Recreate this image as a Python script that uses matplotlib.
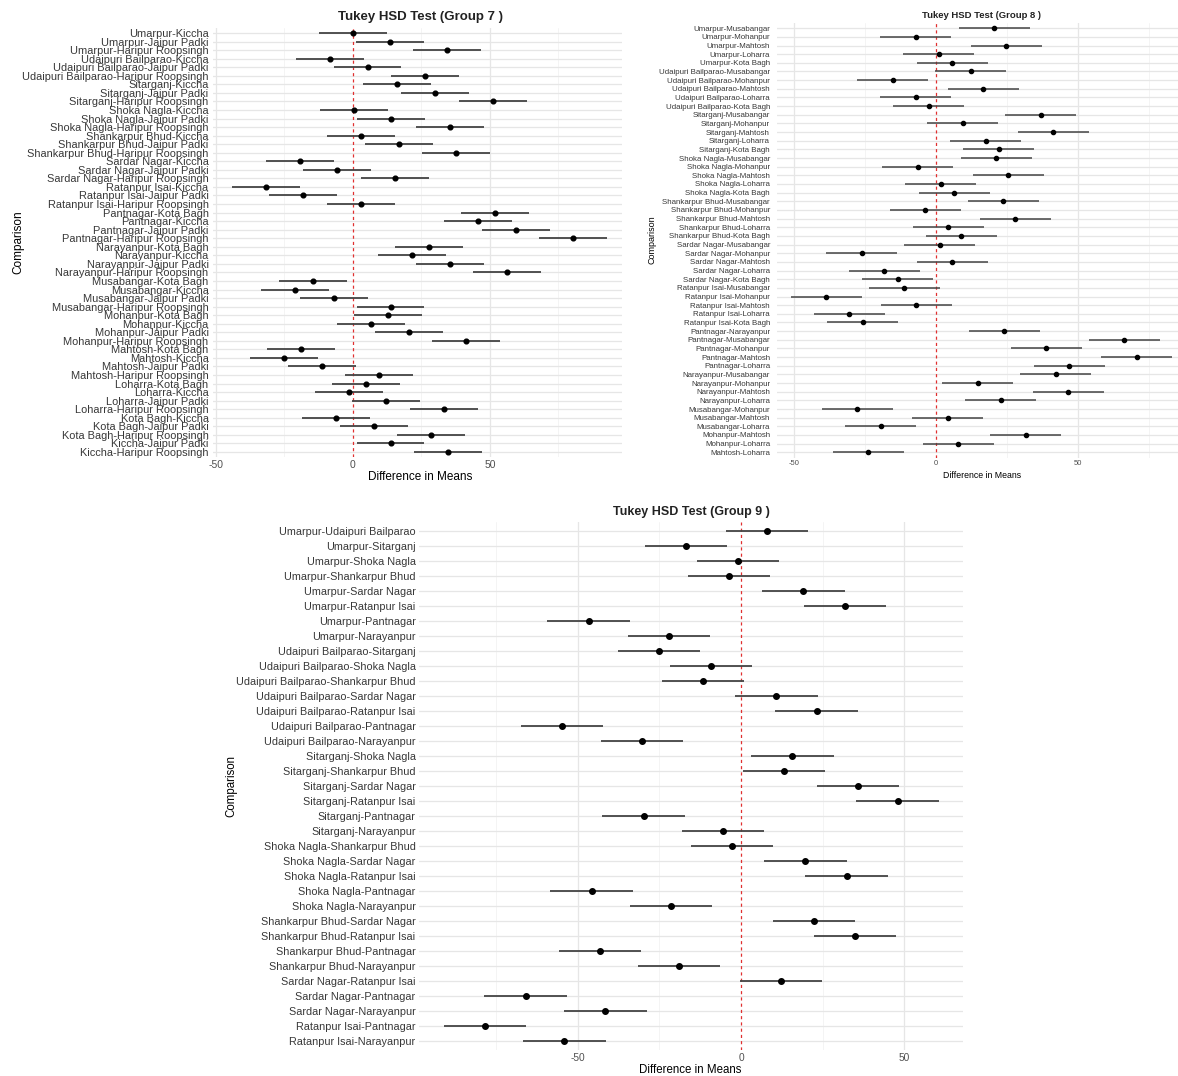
import numpy as np
import matplotlib
matplotlib.use('Agg')
import matplotlib.pyplot as plt

plt.rcParams['font.family'] = ['Liberation Sans', 'DejaVu Sans']

# ---- Group 7 comparisons ----
g7_labels = [
    'Umarpur-Kiccha', 'Umarpur-Jaipur Padki', 'Umarpur-Haripur Roopsingh',
    'Udaipuri Bailparao-Kiccha', 'Udaipuri Bailparao-Jaipur Padki', 'Udaipuri Bailparao-Haripur Roopsingh',
    'Sitarganj-Kiccha', 'Sitarganj-Jaipur Padki', 'Sitarganj-Haripur Roopsingh',
    'Shoka Nagla-Kiccha', 'Shoka Nagla-Jaipur Padki', 'Shoka Nagla-Haripur Roopsingh',
    'Shankarpur Bhud-Kiccha', 'Shankarpur Bhud-Jaipur Padki', 'Shankarpur Bhud-Haripur Roopsingh',
    'Sardar Nagar-Kiccha', 'Sardar Nagar-Jaipur Padki', 'Sardar Nagar-Haripur Roopsingh',
    'Ratanpur Isai-Kiccha', 'Ratanpur Isai-Jaipur Padki', 'Ratanpur Isai-Haripur Roopsingh',
    'Pantnagar-Kota Bagh', 'Pantnagar-Kiccha', 'Pantnagar-Jaipur Padki', 'Pantnagar-Haripur Roopsingh',
    'Narayanpur-Kota Bagh', 'Narayanpur-Kiccha', 'Narayanpur-Jaipur Padki', 'Narayanpur-Haripur Roopsingh',
    'Musabangar-Kota Bagh', 'Musabangar-Kiccha', 'Musabangar-Jaipur Padki', 'Musabangar-Haripur Roopsingh',
    'Mohanpur-Kota Bagh', 'Mohanpur-Kiccha', 'Mohanpur-Jaipur Padki', 'Mohanpur-Haripur Roopsingh',
    'Mahtosh-Kota Bagh', 'Mahtosh-Kiccha', 'Mahtosh-Jaipur Padki', 'Mahtosh-Haripur Roopsingh',
    'Loharra-Kota Bagh', 'Loharra-Kiccha', 'Loharra-Jaipur Padki', 'Loharra-Haripur Roopsingh',
    'Kota Bagh-Kiccha', 'Kota Bagh-Jaipur Padki', 'Kota Bagh-Haripur Roopsingh',
    'Kiccha-Jaipur Padki', 'Kiccha-Haripur Roopsingh',
]
g7_diff = [
    0.0, 13.4, 34.4, -8.4, 5.3, 26.3, 16.2, 29.9, 51.0, 0.4,
    14.0, 35.3, 2.9, 16.8, 37.7, -19.4, -5.9, 15.4, -31.7, -18.2,
    2.8, 51.8, 45.5, 59.4, 80.2, 27.7, 21.4, 35.3, 56.1, -14.7,
    -21.0, -7.1, 13.7, 12.7, 6.6, 20.3, 41.3, -18.9, -25.1, -11.3,
    9.6, 4.6, -1.4, 12.2, 33.1, -6.1, 7.5, 28.6, 13.7, 34.6,
]
g7_ci = 12.4

# ---- Group 8 comparisons ----
g8_labels = [
    'Umarpur-Musabangar', 'Umarpur-Mohanpur', 'Umarpur-Mahtosh', 'Umarpur-Loharra', 'Umarpur-Kota Bagh',
    'Udaipuri Bailparao-Musabangar', 'Udaipuri Bailparao-Mohanpur', 'Udaipuri Bailparao-Mahtosh',
    'Udaipuri Bailparao-Loharra', 'Udaipuri Bailparao-Kota Bagh',
    'Sitarganj-Musabangar', 'Sitarganj-Mohanpur', 'Sitarganj-Mahtosh', 'Sitarganj-Loharra', 'Sitarganj-Kota Bagh',
    'Shoka Nagla-Musabangar', 'Shoka Nagla-Mohanpur', 'Shoka Nagla-Mahtosh', 'Shoka Nagla-Loharra',
    'Shoka Nagla-Kota Bagh',
    'Shankarpur Bhud-Musabangar', 'Shankarpur Bhud-Mohanpur', 'Shankarpur Bhud-Mahtosh',
    'Shankarpur Bhud-Loharra', 'Shankarpur Bhud-Kota Bagh',
    'Sardar Nagar-Musabangar', 'Sardar Nagar-Mohanpur', 'Sardar Nagar-Mahtosh', 'Sardar Nagar-Loharra',
    'Sardar Nagar-Kota Bagh',
    'Ratanpur Isai-Musabangar', 'Ratanpur Isai-Mohanpur', 'Ratanpur Isai-Mahtosh', 'Ratanpur Isai-Loharra',
    'Ratanpur Isai-Kota Bagh',
    'Pantnagar-Narayanpur', 'Pantnagar-Musabangar', 'Pantnagar-Mohanpur', 'Pantnagar-Mahtosh',
    'Pantnagar-Loharra',
    'Narayanpur-Musabangar', 'Narayanpur-Mohanpur', 'Narayanpur-Mahtosh', 'Narayanpur-Loharra',
    'Musabangar-Mohanpur', 'Musabangar-Mahtosh', 'Musabangar-Loharra',
    'Mohanpur-Mahtosh', 'Mohanpur-Loharra', 'Mahtosh-Loharra',
]
g8_diff = [
    20.5, -7.1, 24.8, 1.0, 5.8, 12.3, -15.2, 16.6, -7.1, -2.5,
    37.0, 9.4, 41.3, 17.5, 22.2, 21.2, -6.4, 25.5, 1.7, 6.4,
    23.8, -3.8, 27.9, 4.3, 9.0, 1.4, -26.2, 5.7, -18.2, -13.5,
    -11.2, -38.7, -6.9, -30.5, -25.8, 24.0, 66.4, 38.8, 70.8, 47.0,
    42.3, 14.7, 46.6, 22.9, -27.8, 4.2, -19.5, 31.7, 7.9, -23.8,
]
g8_ci = 12.5

# ---- Group 9 comparisons ----
g9_labels = [
    'Umarpur-Udaipuri Bailparao', 'Umarpur-Sitarganj', 'Umarpur-Shoka Nagla', 'Umarpur-Shankarpur Bhud',
    'Umarpur-Sardar Nagar', 'Umarpur-Ratanpur Isai', 'Umarpur-Pantnagar', 'Umarpur-Narayanpur',
    'Udaipuri Bailparao-Sitarganj', 'Udaipuri Bailparao-Shoka Nagla', 'Udaipuri Bailparao-Shankarpur Bhud',
    'Udaipuri Bailparao-Sardar Nagar', 'Udaipuri Bailparao-Ratanpur Isai', 'Udaipuri Bailparao-Pantnagar',
    'Udaipuri Bailparao-Narayanpur',
    'Sitarganj-Shoka Nagla', 'Sitarganj-Shankarpur Bhud', 'Sitarganj-Sardar Nagar', 'Sitarganj-Ratanpur Isai',
    'Sitarganj-Pantnagar', 'Sitarganj-Narayanpur',
    'Shoka Nagla-Shankarpur Bhud', 'Shoka Nagla-Sardar Nagar', 'Shoka Nagla-Ratanpur Isai',
    'Shoka Nagla-Pantnagar', 'Shoka Nagla-Narayanpur',
    'Shankarpur Bhud-Sardar Nagar', 'Shankarpur Bhud-Ratanpur Isai', 'Shankarpur Bhud-Pantnagar',
    'Shankarpur Bhud-Narayanpur',
    'Sardar Nagar-Ratanpur Isai', 'Sardar Nagar-Pantnagar', 'Sardar Nagar-Narayanpur',
    'Ratanpur Isai-Pantnagar', 'Ratanpur Isai-Narayanpur',
]
g9_diff = [
    7.9, -16.9, -0.9, -3.6, 19.1, 31.8, -46.6, -22.1, -25.1, -9.2,
    -11.7, 10.8, 23.1, -54.7, -30.3, 15.7, 13.1, 35.8, 47.9, -29.8,
    -5.5, -2.8, 19.7, 32.3, -45.7, -21.5, 22.3, 34.9, -43.2, -19.0,
    12.2, -65.9, -41.5, -78.3, -54.0,
]
g9_ci = 12.6

W, H = 1178, 1076


def px_axes(fig, left, top, right, bottom):
    # pixel box (origin top-left) -> figure fraction axes
    return fig.add_axes([left / W, 1 - bottom / H, (right - left) / W, (bottom - top) / H])


def draw_panel(ax, labels, diff, ci, xlim, lab_size, tick_size, dot_size, bar_lw, lab_pad):
    n = len(labels)
    y = np.arange(n)
    diff = np.asarray(diff)
    ax.set_facecolor('white')
    for s in ax.spines.values():
        s.set_visible(False)
    ax.set_xlim(*xlim)
    ax.set_ylim(n - 1 + 0.6, -0.6)
    # grid in the style of theme_minimal
    for v in [-100, -50, 50, 100]:
        ax.axvline(v, color='#e6e6e6', lw=0.9, zorder=0)
    for v in [-75, -25, 25, 75]:
        ax.axvline(v, color='#f0f0f0', lw=0.5, zorder=0)
    for yy in y:
        ax.axhline(yy, color='#e6e6e6', lw=0.9, zorder=0)
    ax.axvline(0, color='#e03030', lw=0.9, ls=(0, (2.5, 2.5)), zorder=1)
    ax.hlines(y, diff - ci, diff + ci, color='#444444', lw=bar_lw, zorder=2)
    ax.plot(diff, y, 'o', color='black', ms=dot_size, zorder=3)
    ax.set_yticks(y)
    ax.set_yticklabels(labels, fontsize=lab_size, color='#383838')
    ax.set_xticks([-50, 0, 50])
    ax.set_xticklabels(['-50', '0', '50'], fontsize=tick_size, color='#505050')
    ax.tick_params(axis='both', length=0)
    ax.tick_params(axis='y', pad=lab_pad)
    ax.tick_params(axis='x', pad=2)


fig = plt.figure(figsize=(W / 100, H / 100), dpi=100)
fig.patch.set_facecolor('white')

# Group 7 (top left)
ax7 = px_axes(fig, 213, 28, 622, 457)
draw_panel(ax7, g7_labels, g7_diff, g7_ci, (-51.1, 98.2), 7.9, 7.5, 3.4, 1.3, 3.2)
fig.text(420 / W, 1 - 17 / H, 'Tukey HSD Test (Group 7 )', ha='center', va='center',
         fontsize=9.5, fontweight='bold', color='#222222')
fig.text(420 / W, 1 - 477 / H, 'Difference in Means', ha='center', va='center', fontsize=8.5)
fig.text(18 / W, 1 - 242 / H, 'Comparison', ha='center', va='center', rotation=90, fontsize=8.5)

# Group 8 (top right, cut off at the figure edge)
ax8 = px_axes(fig, 777, 23, 1178, 457.5)
draw_panel(ax8, g8_labels, g8_diff, g8_ci, (-56.0, 85.3), 5.7, 5.5, 3.0, 1.1, 5.0)
fig.text(981 / W, 1 - 15.5 / H, 'Tukey HSD Test (Group 8 )', ha='center', va='center',
         fontsize=6.8, fontweight='bold', color='#222222')
fig.text(982 / W, 1 - 476 / H, 'Difference in Means', ha='center', va='center', fontsize=6.3)
fig.text(652 / W, 1 - 240 / H, 'Comparison', ha='center', va='center', rotation=90, fontsize=6.5)

# Group 9 (bottom)
ax9 = px_axes(fig, 419, 522, 963, 1050)
draw_panel(ax9, g9_labels, g9_diff, g9_ci, (-98.5, 67.9), 7.8, 7.3, 4.0, 1.3, 2.5)
fig.text(691 / W, 1 - 512 / H, 'Tukey HSD Test (Group 9 )', ha='center', va='center',
         fontsize=9.0, fontweight='bold', color='#222222')
fig.text(690 / W, 1 - 1070 / H, 'Difference in Means', ha='center', va='center', fontsize=8.3)
fig.text(231 / W, 1 - 786 / H, 'Comparison', ha='center', va='center', rotation=90, fontsize=8.3)

fig.savefig('out.png', dpi=100, facecolor='white')
plt.close(fig)
